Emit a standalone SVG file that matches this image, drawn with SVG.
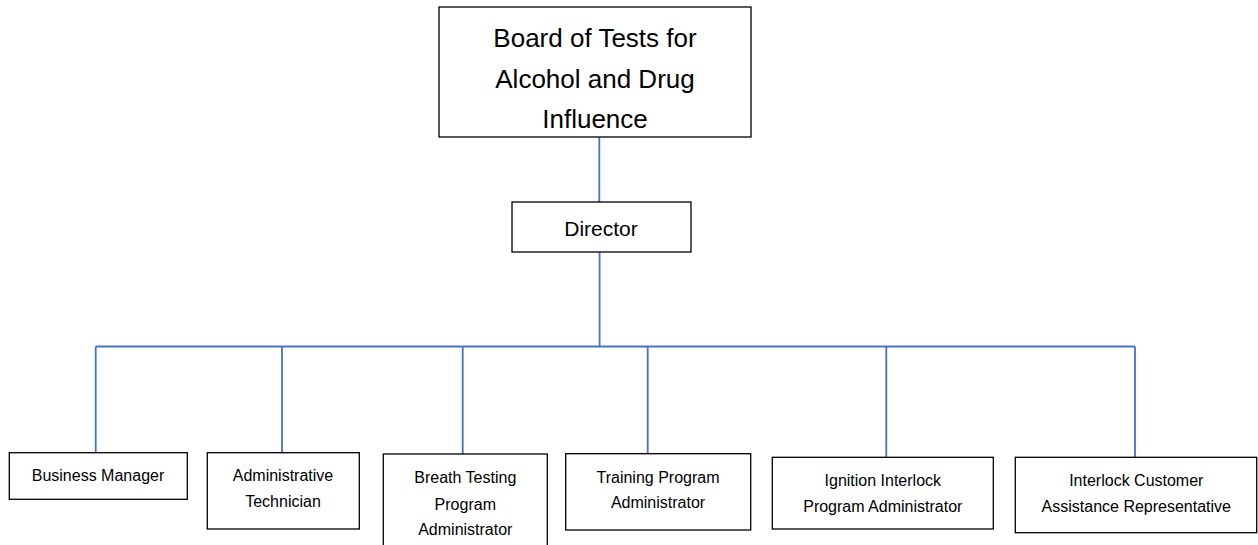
<svg xmlns="http://www.w3.org/2000/svg" width="1258" height="545" viewBox="0 0 1258 545">
  <style>
    .box { fill: #ffffff; stroke: #000000; stroke-width: 1.3; }
    .lbl { font-family: "Liberation Sans", Arial, sans-serif; fill: #000000; text-anchor: middle; }
    .big { font-size: 26px; }
    .mid { font-size: 21px; }
    .sm { font-size: 16px; }
    .link { fill: none; stroke: #4472C4; stroke-width: 1.8; }
  </style>
  <rect width="1258" height="545" fill="#ffffff"/>

  <!-- reporting lines -->
  <g id="connectors">
    <path class="link" d="M599.3 137 V202"/>
    <path class="link" d="M599.6 252 V346.5"/>
    <path class="link" d="M95.7 346.5 H1135"/>
    <path class="link" d="M95.7 346.5 V453"/>
    <path class="link" d="M282 346.5 V453"/>
    <path class="link" d="M462.7 346.5 V454"/>
    <path class="link" d="M647.7 346.5 V454"/>
    <path class="link" d="M886.3 346.5 V457"/>
    <path class="link" d="M1135 346.5 V457"/>
  </g>

  <g id="board">
    <rect class="box" x="439" y="7" width="312" height="130"/>
    <text class="lbl big" x="595" y="46.5">Board of Tests for</text>
    <text class="lbl big" x="595" y="87.5">Alcohol and Drug</text>
    <text class="lbl big" x="595" y="128">Influence</text>
  </g>

  <g id="director">
    <rect class="box" x="512" y="202" width="179" height="50"/>
    <text class="lbl mid" x="601" y="236">Director</text>
  </g>

  <g id="business-manager">
    <rect class="box" x="9.3" y="452.7" width="178" height="46.6"/>
    <text class="lbl sm" x="98" y="481">Business Manager</text>
  </g>

  <g id="administrative-technician">
    <rect class="box" x="207.3" y="452.7" width="152" height="76.3"/>
    <text class="lbl sm" x="283" y="480.7">Administrative</text>
    <text class="lbl sm" x="283" y="506.7">Technician</text>
  </g>

  <g id="breath-testing">
    <rect class="box" x="383.3" y="454" width="164" height="100"/>
    <text class="lbl sm" x="465.3" y="483.3">Breath Testing</text>
    <text class="lbl sm" x="465.3" y="509.5">Program</text>
    <text class="lbl sm" x="465.3" y="534.5">Administrator</text>
  </g>

  <g id="training-program">
    <rect class="box" x="565.7" y="453.7" width="185" height="76.3"/>
    <text class="lbl sm" x="658" y="482.7">Training Program</text>
    <text class="lbl sm" x="658" y="507.5">Administrator</text>
  </g>

  <g id="ignition-interlock">
    <rect class="box" x="772.3" y="457.3" width="221" height="71.7"/>
    <text class="lbl sm" x="882.8" y="485.7">Ignition Interlock</text>
    <text class="lbl sm" x="882.8" y="511.7">Program Administrator</text>
  </g>

  <g id="interlock-customer">
    <rect class="box" x="1015.3" y="457.3" width="241.4" height="75.4"/>
    <text class="lbl sm" x="1136.3" y="485.7">Interlock Customer</text>
    <text class="lbl sm" x="1136.3" y="511.7">Assistance Representative</text>
  </g>
</svg>
